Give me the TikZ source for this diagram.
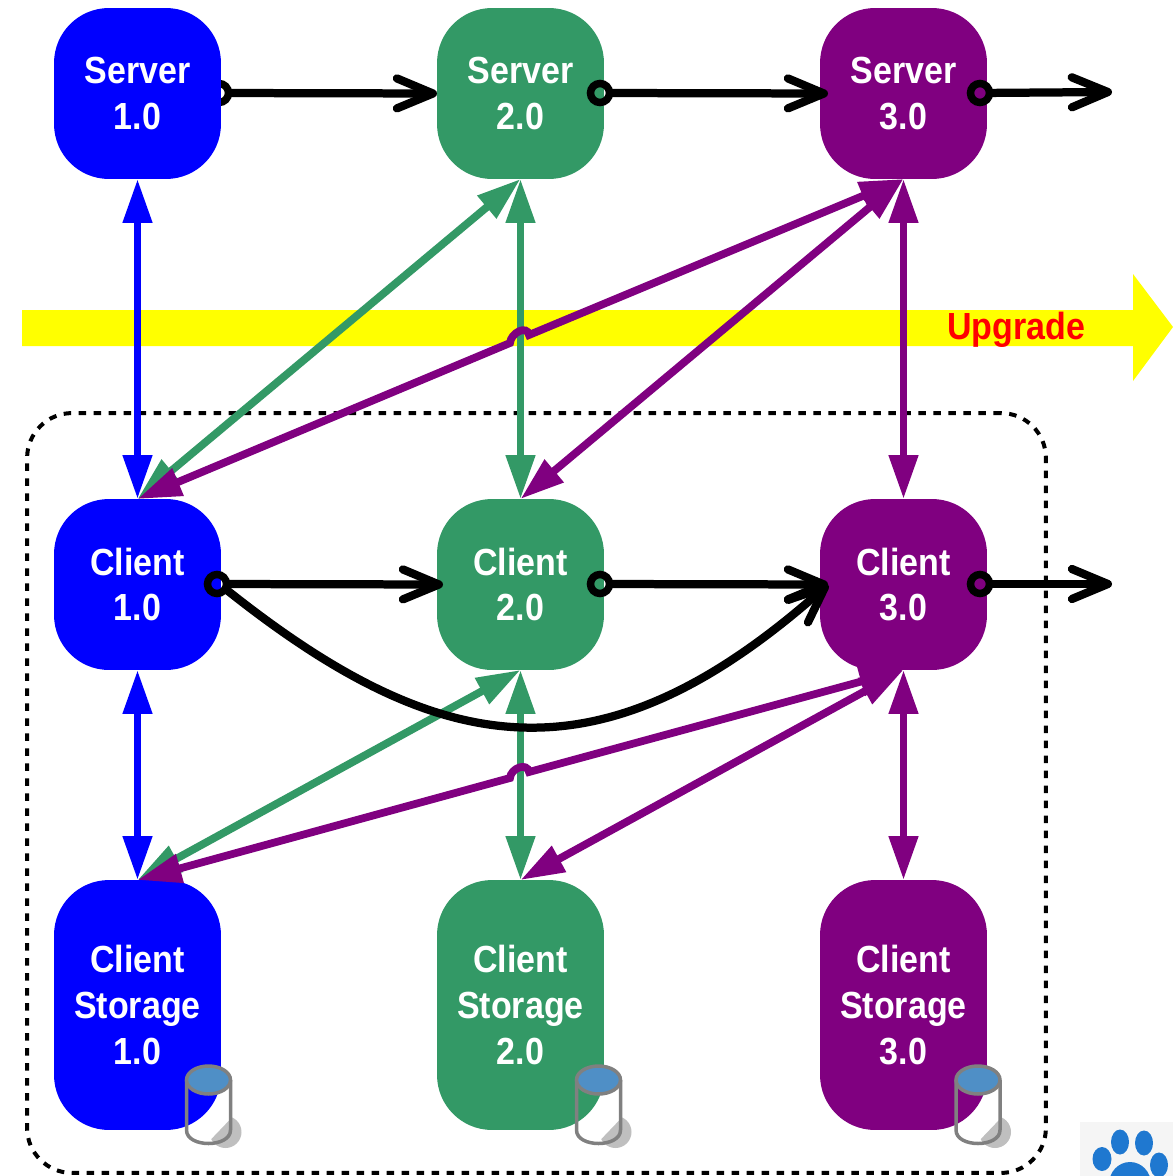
\documentclass[tikz,border=0pt]{standalone}
\usepackage{fontspec}
\setmainfont[FakeStretch=0.9]{Liberation Sans}
\usetikzlibrary{arrows.meta}
\definecolor{verblue}{HTML}{0000FF}
\definecolor{vergreen}{HTML}{339966}
\definecolor{verpurple}{HTML}{800080}
\definecolor{bandyellow}{HTML}{FFFF00}
\definecolor{upred}{HTML}{FF0000}
\definecolor{canblue}{HTML}{4F8FC6}
\definecolor{pawblue}{HTML}{1F78D0}
\tikzset{
  verbox/.style={rectangle,rounded corners=1.1cm,minimum width=3.34cm,minimum height=3.42cm,
                 outer sep=0pt,inner sep=0pt,align=center,text=white,
                 font=\fontsize{21.5}{26.1}\selectfont\bfseries},
  storebox/.style={verbox,minimum height=5cm},
  ring/.style={circle,draw=black,line width=.15cm,minimum size=.38cm,inner sep=0pt,outer sep=0pt},
  upgrade/.style={-{Straight Barb[length=.72cm,width=.6cm,line cap=round,line join=round]},black,line width=.165cm},
  compat/.style={{Triangle[length=.88cm,width=.56cm]}-{Triangle[length=.88cm,width=.56cm]},line width=.155cm},
  pics/datacan/.style={code={
    \begin{scope}
      \clip (0,62) -- (22,39) -- (60,0) -- (60,90) -- (0,90) -- cycle;
      \fill[gray!50] (17,52) circle (.32cm);
    \end{scope}
    \draw[draw=gray,line width=.07cm,line join=round] (-22,0) -- (-22,50) .. controls (-22,68) and (22,68) .. (22,50) -- (22,0);
    \draw[draw=gray,fill=canblue,line width=.07cm] (0,0) ellipse (.44cm and .28cm);
  }}
}
\begin{document}
\begin{tikzpicture}[x=0.02cm,y=-0.02cm]
    \useasboundingbox (0,0) rectangle (1173,1176);
    \clip (0,0) rectangle (1173,1176);

    % band
    \fill[bandyellow] (22,310) -- (1133,310) -- (1133,274) -- (1173,327) -- (1133,381) -- (1133,346) -- (22,346) -- cycle;
    \node[text=upred,font=\fontsize{21.5}{26.1}\selectfont\bfseries,inner sep=0pt] (upg) at (1016,330) {Upgrade};

    % this ring lies behind its box
    \node[ring] (rs1) at (219,93) {};

    \node[verbox,fill=verblue]   (s1) at (137.5,93.5) {Server\\1.0};
    \node[verbox,fill=vergreen]  (s2) at (520.5,93.5) {Server\\2.0};
    \node[verbox,fill=verpurple] (s3) at (903.5,93.5) {Server\\3.0};

    \node[verbox,fill=verblue]   (c1) at (137.5,584.5) {Client\\1.0};
    \node[verbox,fill=vergreen]  (c2) at (520.5,584.5) {Client\\2.0};
    \node[verbox,fill=verpurple] (c3) at (903.5,584.5) {Client\\3.0};

    \node[storebox,fill=verblue]   (d1) at (137.5,1005) {Client\\Storage\\1.0};
    \node[storebox,fill=vergreen]  (d2) at (520.5,1005) {Client\\Storage\\2.0};
    \node[storebox,fill=verpurple] (d3) at (903.5,1005) {Client\\Storage\\3.0};

    \pic at (208.5,1080) {datacan};
    \pic at (598.5,1080) {datacan};
    \pic at (978,1080)   {datacan};

    % client group
    \node[draw=black,line width=.08cm,dash pattern=on .15cm off .15cm,rounded corners=.9cm,
          minimum width=20.38cm,minimum height=15.2cm,inner sep=0pt] (group) at (536.5,793) {};

    \node[ring] (rs2) at (600,93)  {};
    \node[ring] (rs3) at (980,93)  {};
    \node[ring] (rc1) at (217,584) {};
    \node[ring] (rc2) at (600,584) {};
    \node[ring] (rc3) at (980,584) {};

    \coordinate (ends) at (1112,92);
    \coordinate (endc) at (1112,584);
    \coordinate (tipc2) at (443,584.5);
    \coordinate (tips3) at (828,93.5);
    \coordinate (tipc3) at (828,584.5);
    \coordinate (jumpa) at (510,343);
    \coordinate (jumpb) at (529,335);
    \coordinate (jumpc) at (510,778);
    \coordinate (jumpd) at (529,772);

    % server to client
    \draw[compat,verblue]   (s1.south) -- (c1.north);
    \draw[compat,vergreen]  (s2.south) -- (c2.north);
    \draw[compat,vergreen]  (s2.south) -- (c1.north);
    \draw[compat,verpurple] (s3.south) -- (c3.north);
    \draw[compat,verpurple] (s3.south) -- (c2.north);
    \draw[compat,verpurple] (s3.south) -- (jumpb) to[out=100,in=85,looseness=1.3] (jumpa) -- (c1.north);

    % client to storage
    \draw[compat,verblue]   (c1.south) -- (d1.north);
    \draw[compat,vergreen]  (c2.south) -- (d2.north);
    \draw[compat,vergreen]  (c2.south) -- (d1.north);
    \draw[compat,verpurple] (c3.south) -- (d3.north);
    \draw[compat,verpurple] (c3.south) -- (d2.north);
    \draw[compat,verpurple] (c3.south) -- (jumpd) to[out=100,in=85,looseness=1.3] (jumpc) -- (d1.north);

    % upgrades
    \draw[upgrade] (rs1) -- (s2.west);
    \draw[upgrade] (rs2) -- (tips3);
    \draw[upgrade] (rs3) -- (ends);
    \draw[upgrade] (rc1) -- (tipc2);
    \draw[upgrade] (rc2) -- (tipc3);
    \draw[upgrade] (rc3) -- (endc);
    \draw[upgrade] (rc1.-30) .. controls (440,760) and (600,787) .. (tipc3);

    % paw
    \fill[black!4] (1080,1122) rectangle (1173,1176);
    \fill[pawblue] (1120,1142) ellipse (.18cm and .25cm)
                   (1144,1143) ellipse (.18cm and .25cm)
                   (1102,1159) ellipse (.19cm and .24cm)
                   (1159,1165) ellipse (.18cm and .25cm)
                   (1130,1184) ellipse (.42cm and .44cm);
\end{tikzpicture}
\end{document}
